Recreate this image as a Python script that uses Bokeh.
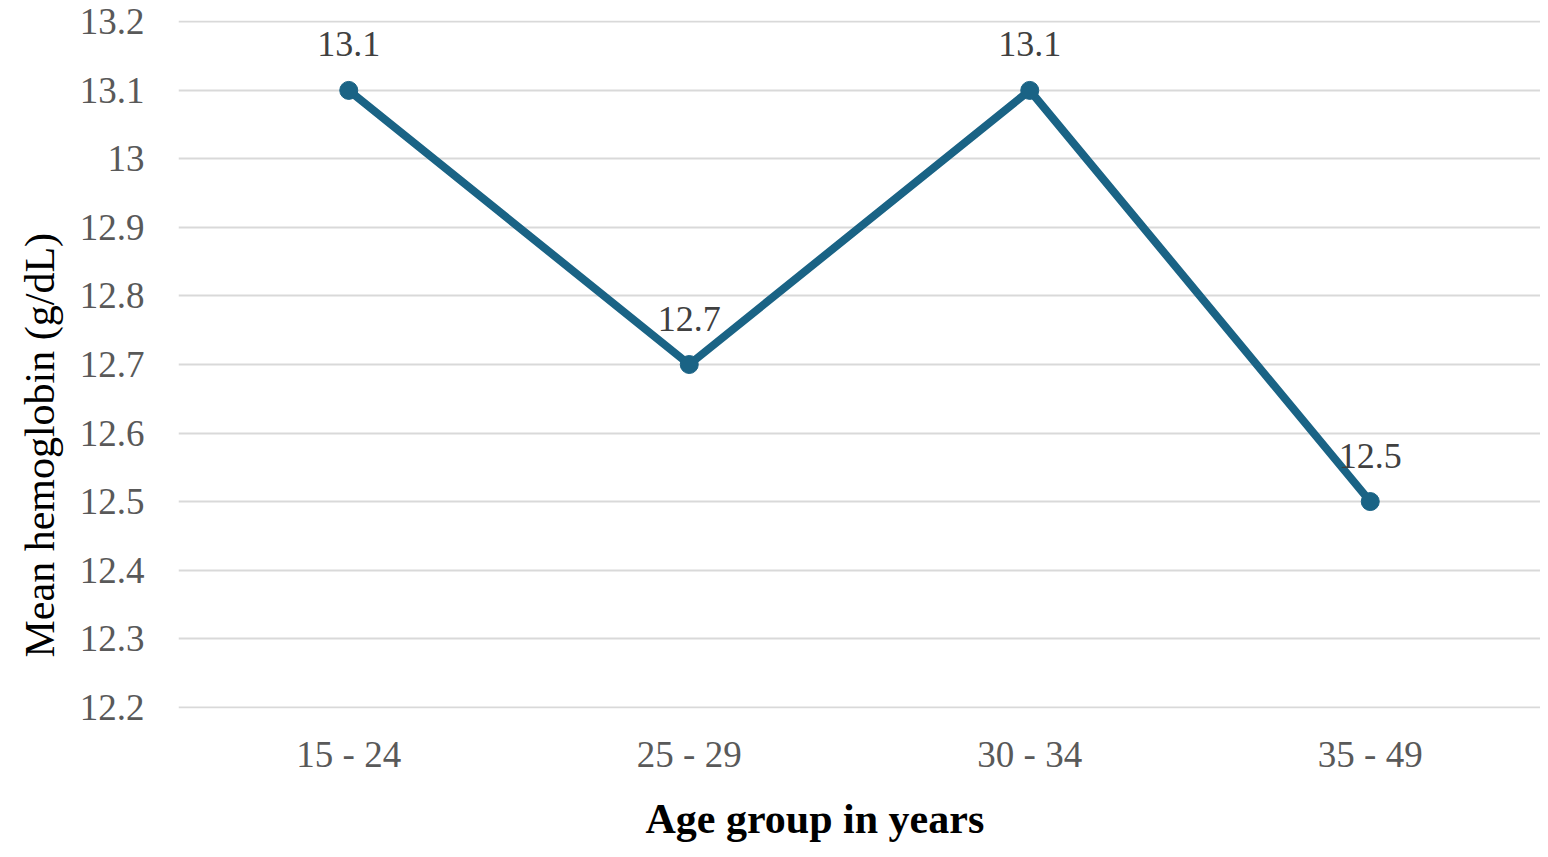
from bokeh.plotting import figure
from bokeh.models import ColumnDataSource, FixedTicker, Title, Range1d
from bokeh.core.properties import value
from bokeh.embed import file_html
from bokeh.resources import INLINE

age_groups = ["15 - 24", "25 - 29", "30 - 34", "35 - 49"]
mean_hb = [13.1, 12.7, 13.1, 12.5]
labels = ["13.1", "12.7", "13.1", "12.5"]
y_ticks = [12.2, 12.3, 12.4, 12.5, 12.6, 12.7, 12.8, 12.9, 13.0, 13.1, 13.2]
y_tick_labels = {12.2: "12.2", 12.3: "12.3", 12.4: "12.4", 12.5: "12.5", 12.6: "12.6",
                 12.7: "12.7", 12.8: "12.8", 12.9: "12.9", 13.0: "13", 13.1: "13.1", 13.2: "13.2"}
x_title = "Age group in years"
y_title = "Mean hemoglobin (g/dL)"

FONT = "Liberation Serif"
COLOR = "#1a6385"

src = ColumnDataSource(dict(x=age_groups, y=mean_hb, lab=labels))

p = figure(x_range=age_groups, y_range=Range1d(12.198, 13.202), width=1540, height=857,
           output_backend="svg", toolbar_location=None,
           min_border_left=178, min_border_right=0, min_border_top=20, min_border_bottom=147)
p.outline_line_color = None
p.background_fill_color = "white"
p.border_fill_color = "white"

p.line("x", "y", source=src, line_color=COLOR, line_width=8)
p.scatter("x", "y", source=src, size=18, fill_color=COLOR, line_color=COLOR)
p.text("x", "y", text="lab", source=src, text_align="center", text_baseline="alphabetic",
       y_offset=-46, text_font=value(FONT), text_font_size="36px", text_color="#404040")

p.yaxis.ticker = FixedTicker(ticks=y_ticks)
p.yaxis.major_label_overrides = y_tick_labels
p.xgrid.grid_line_color = None
p.ygrid.grid_line_color = "#d9d9d9"
p.ygrid.grid_line_width = 2

for ax in (p.xaxis, p.yaxis):
    ax.axis_line_color = None
    ax.major_tick_line_color = None
    ax.minor_tick_line_color = None
    ax.major_label_text_font = FONT
    ax.major_label_text_font_size = "37px"
    ax.major_label_text_color = "#595959"

p.yaxis.major_label_standoff = 28
p.xaxis.major_label_standoff = 19

p.add_layout(Title(text=x_title, align="left", offset=467,
                   text_font=FONT, text_font_size="42px", text_font_style="bold",
                   text_color="black", standoff=32), "below")
p.add_layout(Title(text=y_title, align="left", offset=51,
                   text_font=FONT, text_font_size="42px", text_font_style="normal",
                   text_color="black", standoff=28), "left")

open("out.html", "w").write(file_html(p, INLINE))
